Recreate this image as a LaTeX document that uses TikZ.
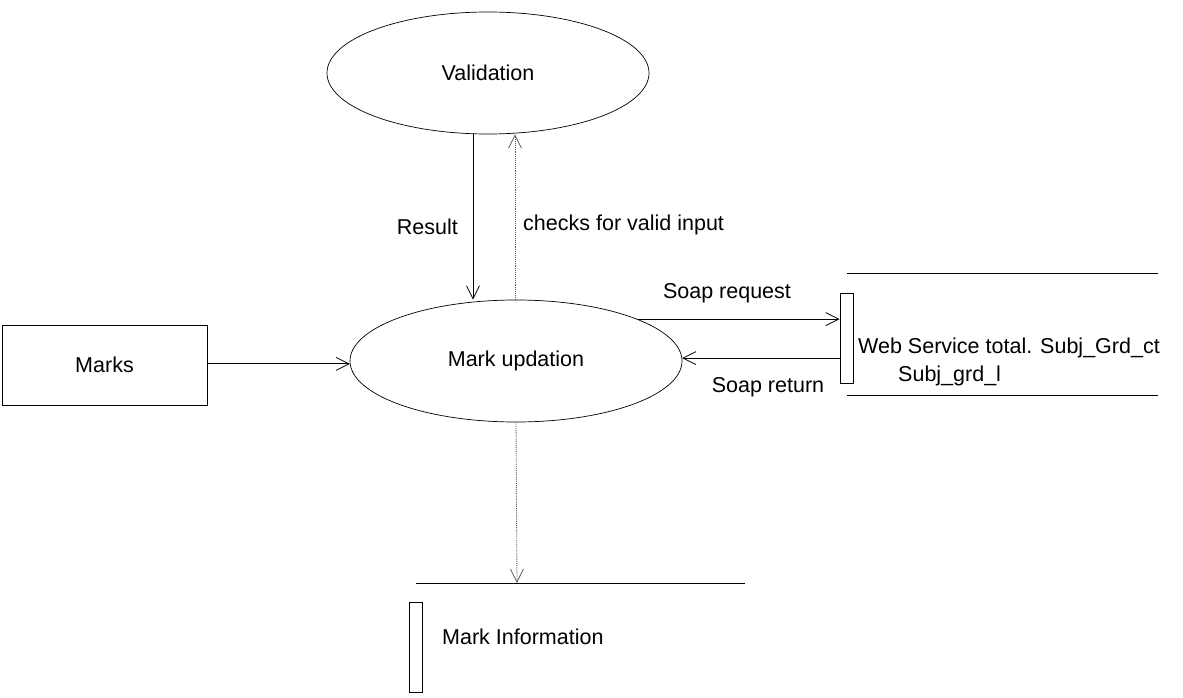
\documentclass[tikz,border=0pt]{standalone}
\usepackage{fontspec}
\setmainfont{Liberation Sans}
\usetikzlibrary{shapes.geometric,arrows.meta}

\tikzset{
  txt/.style={font=\fontsize{21.5}{25}\selectfont},
  lbl/.style={txt, inner sep=0pt},
  proc/.style={ellipse, draw, line width=0.7pt, inner sep=0pt, txt},
  entity/.style={rectangle, draw, line width=0.9pt, inner sep=0pt, txt},
  storebar/.style={rectangle, draw, line width=0.9pt, inner sep=0pt,
                   minimum width=13pt, minimum height=90pt},
  storeline/.style={line width=0.9pt},
  flow/.style={line width=0.9pt, -{Straight Barb[length=13pt,width=13pt,line width=0.8pt]}},
  dflow/.style={line width=0.9pt, black!65, densely dotted,
                -{Straight Barb[length=13pt,width=13pt,line width=0.8pt,sep=0pt]}}
}

\begin{document}
\begin{tikzpicture}[x=1pt,y=-1pt]
  \useasboundingbox (0,0) rectangle (1183,698);

  % processes
  \node[proc, minimum width=322pt, minimum height=122pt] (val) at (488,73) {Validation};
  \node[proc, minimum width=332pt, minimum height=122pt] (upd) at (516,361) {Mark updation};

  % external entity
  \node[entity, minimum width=205pt, minimum height=80pt] (marks) at (104.5,365) {Marks};

  % data store: web service
  \node[storebar] (wsbar) at (846.5,338) {};
  \coordinate (wstopL) at (847,273);
  \coordinate (wstopR) at (1158,273);
  \coordinate (wsbotL) at (847,395);
  \coordinate (wsbotR) at (1158,395);
  \draw[storeline] (wstopL) -- (wstopR);
  \draw[storeline] (wsbotL) -- (wsbotR);
  \node[lbl, anchor=west] (wst1) at (858,348) {Web Service total. Subj\_Grd\_ct};
  \node[lbl, anchor=west] (wst2) at (898,376) {Subj\_grd\_l};

  % data store: mark information
  \coordinate (miL) at (416,583);
  \coordinate (miR) at (745,583);
  \coordinate (mi) at (517,583);
  \draw[storeline] (miL) -- (miR);
  \node[storebar] (mibar) at (415.5,647.5) {};
  \node[lbl, anchor=west] (mit) at (442,637) {Mark Information};

  % flows between validation and mark updation
  \coordinate (rx) at (473,0);
  \coordinate (cx) at (515,0);
  \draw[flow] (val.south -| rx) -- (upd.north -| rx);
  \draw[dflow] (upd.north -| cx) -- (val.south -| cx);
  \node[lbl, anchor=east] (reslbl) at (458,227) {Result};
  \node[lbl, anchor=west] (chklbl) at (523,225) {checks for valid input};

  % marks input
  \draw[flow] (upd.181 -| marks.east) -- (upd.181);

  % soap exchange
  \draw[flow] (upd.19) -- (upd.19 -| wsbar.west);
  \draw[flow] (wsbar.west |- upd.1) -- (upd.1);
  \node[lbl] (reqlbl) at (727,293) {Soap request};
  \node[lbl] (retlbl) at (768,387) {Soap return};

  % output to store
  \draw[dflow] (upd.south) -- (mi);
\end{tikzpicture}
\end{document}
